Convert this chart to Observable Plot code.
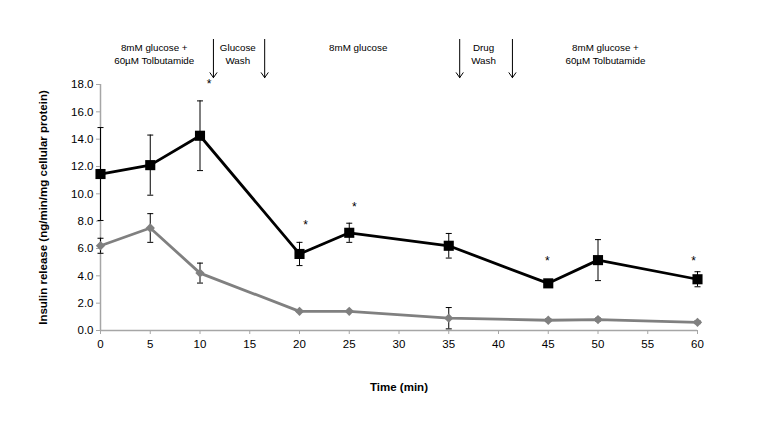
<!DOCTYPE html>
<html>
<head>
<meta charset="utf-8">
<script src="https://cdn.jsdelivr.net/npm/d3@7"></script>
<script src="https://cdn.jsdelivr.net/npm/@observablehq/plot@0.6"></script>
<style>
  html, body { margin: 0; padding: 0; background: #fff; }
  #chart svg { display: block; }
</style>
</head>
<body>
<div id="chart"></div>
<script>
// ---- data ----
const times = [0, 5, 10, 20, 25, 35, 45, 50, 60];
const treatedMean = [11.45, 12.1, 14.25, 5.6, 7.15, 6.2, 3.45, 5.15, 3.75];
const treatedErr  = [3.4, 2.2, 2.55, 0.85, 0.7, 0.9, 0.1, 1.5, 0.55];
const controlMean = [6.2, 7.5, 4.2, 1.4, 1.4, 0.9, 0.75, 0.8, 0.6];
const controlErr  = [0.55, 1.05, 0.73, 0.05, 0.05, 0.78, 0.1, 0.1, 0.1];

const starTimes  = [10.9, 20.6, 25.5, 44.9, 59.6];
const starValues = [18.05, 7.7, 9.0, 5.1, 5.1];

const arrowTimes = [11.35, 16.5, 36.1, 41.4];
const arrowTop = 21.3;
const arrowBottom = 18.5;

const phaseLabels = ["8mM glucose +\n60µM Tolbutamide", "Glucose\nWash", "8mM glucose", "Drug\nWash", "8mM glucose +\n60µM Tolbutamide"];
const phaseTimes  = [5.4, 13.8, 25.9, 38.5, 50.75];
const phaseTop = 21.15;

const yTicks = [0, 2, 4, 6, 8, 10, 12, 14, 16, 18];
const xTicks = [0, 5, 10, 15, 20, 25, 30, 35, 40, 45, 50, 55, 60];

// ---- tables ----
const treated = times.map((t, i) => ({t, v: treatedMean[i], e: treatedErr[i]}));
const control = times.map((t, i) => ({t, v: controlMean[i], e: controlErr[i]}));
const errs = [...treated, ...control];
const stars = starTimes.map((t, i) => ({t, v: starValues[i]}));
const arrows = arrowTimes.map(t => ({t}));
const phases = phaseLabels.map((label, i) => ({label, t: phaseTimes[i]}));

const cap = { draw(ctx, size) { const w = Math.sqrt(size / Math.PI); ctx.moveTo(-w, 0); ctx.lineTo(w, 0); } };

const font = "'Liberation Sans', Arial, sans-serif";

const chart = Plot.plot({
  width: 768,
  height: 433,
  marginLeft: 100,
  marginRight: 71,
  marginTop: 84,
  marginBottom: 103,
  style: { fontFamily: font, background: "#fff", color: "#000" },
  x: { domain: [0, 60] },
  y: { domain: [0, 18] },
  marks: [
    Plot.ruleY([0], { stroke: "#a6a6a6", strokeWidth: 1.5 }),
    Plot.ruleX([0], { stroke: "#a6a6a6", strokeWidth: 1.5 }),
    Plot.axisY({ ticks: yTicks, tickSize: 4, tickPadding: 3, stroke: "#a6a6a6", fill: "#000", fontSize: 11.5, tickFormat: d => d.toFixed(1), label: null }),
    Plot.axisX({ ticks: xTicks, tickSize: 4, tickPadding: 5, stroke: "#a6a6a6", fill: "#000", fontSize: 11.5, label: null }),
    // error bars
    Plot.ruleX(errs, { x: "t", y1: d => d.v - d.e, y2: d => d.v + d.e, stroke: "#000", strokeWidth: 1 }),
    Plot.dot(errs, { x: "t", y: d => d.v + d.e, symbol: cap, r: 3, stroke: "#000", strokeWidth: 1, fill: "none" }),
    Plot.dot(errs, { x: "t", y: d => d.v - d.e, symbol: cap, r: 3, stroke: "#000", strokeWidth: 1, fill: "none" }),
    // lines
    Plot.line(control, { x: "t", y: "v", stroke: "#808080", strokeWidth: 2.8 }),
    Plot.line(treated, { x: "t", y: "v", stroke: "#000", strokeWidth: 2.8 }),
    Plot.dot(control, { x: "t", y: "v", symbol: "diamond2", r: 4.2, fill: "#808080", stroke: "none" }),
    Plot.dot(treated, { x: "t", y: "v", symbol: "square", r: 5.7, fill: "#000", stroke: "none" }),
    // significance stars
    Plot.text(stars, { x: "t", y: "v", text: () => "*", fontSize: 12, fill: "#000" }),
    // phase arrows
    Plot.arrow(arrows, { x1: "t", x2: "t", y1: () => arrowTop, y2: () => arrowBottom, stroke: "#000", strokeWidth: 1, headLength: 9, headAngle: 70 }),
    Plot.text(phases, { x: "t", y: () => phaseTop, text: "label", lineAnchor: "top", lineHeight: 1.35, fontSize: 9.8, fill: "#000" }),
    // axis titles
    Plot.text(["Insulin release (ng/min/mg cellular protein)"], { frameAnchor: "left", textAnchor: "middle", dx: -57, rotate: -90, fontWeight: "bold", fontSize: 11.5, fill: "#000" }),
    Plot.text(["Time (min)"], { frameAnchor: "bottom", dy: 60, fontWeight: "bold", fontSize: 11.5, fill: "#000" })
  ]
});
document.getElementById("chart").appendChild(chart);
</script>
</body>
</html>
